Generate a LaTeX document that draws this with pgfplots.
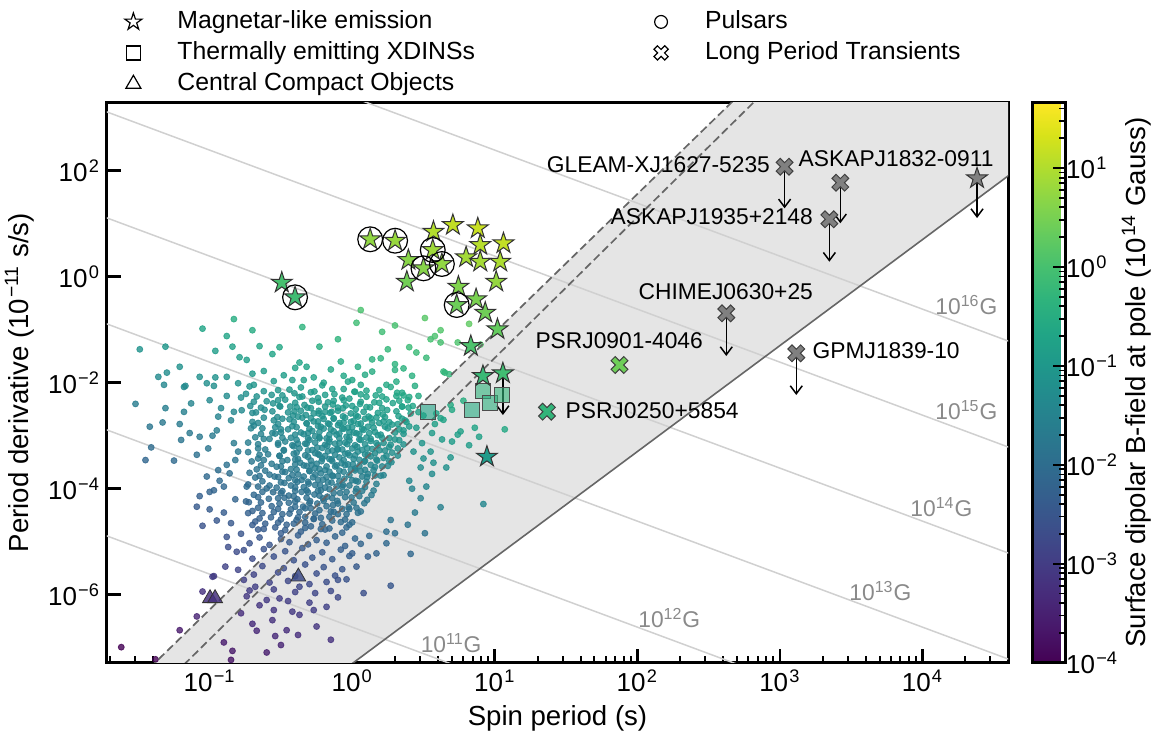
\documentclass[border=0pt]{standalone}
\usepackage{fontspec}
\setmainfont{Liberation Sans}
\usepackage{pgfplots}
\usepackage{pgfplotstable}
\pgfplotsset{compat=1.18}
\usepgfplotslibrary{colormaps}
\usetikzlibrary{arrows.meta}

\definecolor{bline}{HTML}{D0D0D0}
\definecolor{dline}{HTML}{666666}
\definecolor{region}{HTML}{E5E5E5}
\definecolor{lptgray}{HTML}{808080}
\definecolor{blabel}{HTML}{8A8A8A}
\newcommand{\sups}[1]{\kern0.6pt\textsuperscript{#1}}

% five-pointed star like matplotlib '*'
\pgfdeclareplotmark{mstar}{%
  \pgfpathmoveto{\pgfqpoint{0pt}{\pgfplotmarksize}}%
  \pgfpathlineto{\pgfqpoint{-0.2245\pgfplotmarksize}{0.309\pgfplotmarksize}}%
  \pgfpathlineto{\pgfqpoint{-0.9511\pgfplotmarksize}{0.309\pgfplotmarksize}}%
  \pgfpathlineto{\pgfqpoint{-0.3633\pgfplotmarksize}{-0.118\pgfplotmarksize}}%
  \pgfpathlineto{\pgfqpoint{-0.5878\pgfplotmarksize}{-0.809\pgfplotmarksize}}%
  \pgfpathlineto{\pgfqpoint{0pt}{-0.382\pgfplotmarksize}}%
  \pgfpathlineto{\pgfqpoint{0.5878\pgfplotmarksize}{-0.809\pgfplotmarksize}}%
  \pgfpathlineto{\pgfqpoint{0.3633\pgfplotmarksize}{-0.118\pgfplotmarksize}}%
  \pgfpathlineto{\pgfqpoint{0.9511\pgfplotmarksize}{0.309\pgfplotmarksize}}%
  \pgfpathlineto{\pgfqpoint{0.2245\pgfplotmarksize}{0.309\pgfplotmarksize}}%
  \pgfpathclose
  \pgfusepathqfillstroke
}
% filled X like matplotlib 'X'
\pgfdeclareplotmark{fatx}{%
  \pgftransformrotate{45}%
  \pgfpathmoveto{\pgfqpoint{0.32\pgfplotmarksize}{\pgfplotmarksize}}%
  \pgfpathlineto{\pgfqpoint{0.32\pgfplotmarksize}{0.32\pgfplotmarksize}}%
  \pgfpathlineto{\pgfqpoint{\pgfplotmarksize}{0.32\pgfplotmarksize}}%
  \pgfpathlineto{\pgfqpoint{\pgfplotmarksize}{-0.32\pgfplotmarksize}}%
  \pgfpathlineto{\pgfqpoint{0.32\pgfplotmarksize}{-0.32\pgfplotmarksize}}%
  \pgfpathlineto{\pgfqpoint{0.32\pgfplotmarksize}{-\pgfplotmarksize}}%
  \pgfpathlineto{\pgfqpoint{-0.32\pgfplotmarksize}{-\pgfplotmarksize}}%
  \pgfpathlineto{\pgfqpoint{-0.32\pgfplotmarksize}{-0.32\pgfplotmarksize}}%
  \pgfpathlineto{\pgfqpoint{-\pgfplotmarksize}{-0.32\pgfplotmarksize}}%
  \pgfpathlineto{\pgfqpoint{-\pgfplotmarksize}{0.32\pgfplotmarksize}}%
  \pgfpathlineto{\pgfqpoint{-0.32\pgfplotmarksize}{0.32\pgfplotmarksize}}%
  \pgfpathlineto{\pgfqpoint{-0.32\pgfplotmarksize}{\pgfplotmarksize}}%
  \pgfpathclose
  \pgfusepathqfillstroke
}

% all tables: a = log10 P [s], b = log10 Pdot [1e-11 s/s]
\pgfplotstableread[row sep=\\]{
a b\\
-1.49 -1.37\\ -1.31 -1.32\\ -1.36 -1.89\\ -1.30 -1.81\\ -1.21 -1.70\\ -1.32 -2.04\\ -1.17 -2.06\\ -1.07 -1.89\\
-1.02 -2.01\\ -0.96 -1.40\\ -0.96 -1.90\\ -0.88 -1.12\\ -0.88 -1.89\\ -0.84 -1.32\\ -0.83 -0.80\\ -0.80 -2.01\\
-0.79 -1.52\\ -0.74 -1.57\\ -0.70 -1.01\\ -0.69 -2.04\\ -0.65 -1.31\\ -0.56 -1.46\\ -0.51 -1.33\\ -0.42 -1.95\\
-0.37 -1.62\\ -0.34 -1.95\\ -0.32 -1.70\\ -0.23 -1.32\\ -0.10 -1.18\\ -0.06 -1.87\\ -0.03 -1.98\\ 0.04 -1.70\\
0.06 -2.04\\ 0.06 -0.63\\ 0.03 -0.87\\ 0.14 -1.56\\ 0.14 -1.79\\ 0.20 -1.54\\ 0.21 -1.04\\ 0.24 -2.04\\
0.25 -1.37\\ 0.31 -1.98\\ 0.36 -1.73\\ 0.42 -1.87\\ 0.45 -1.43\\ 0.52 -1.53\\ 0.51 -0.78\\ 0.58 -1.12\\
0.62 -1.24\\ 0.65 -1.81\\ 0.68 -1.84\\ 0.82 -0.89\\ 0.74 -1.24\\ 0.62 -1.01\\ 0.30 -1.76\\ 0.64 -1.79\\
-0.62 -1.78\\ -0.48 -1.86\\ -0.27 -1.90\\ -0.15 -1.75\\ -0.08 -1.60\\ 0.00 -1.95\\ 0.09 -1.85\\ 0.30 -1.65\\
-0.40 -1.72\\ -0.20 -2.00\\ -0.55 -1.97\\ -0.70 -1.83\\ -0.35 -0.95\\ 0.30 -0.92\\ -1.05 -0.98\\ 0.40 -1.33\\
0.55 -1.18\\ 0.90 -1.28\\
1.07 -2.88\\ 0.92 -4.29\\ 0.62 -4.35\\ 0.51 -4.84\\ 0.41 -5.23\\ 0.30 -4.84\\ 0.24 -4.81\\ 0.27 -4.59\\
0.39 -4.68\\ 0.48 -4.18\\ 0.52 -3.96\\ 0.56 -3.72\\ 0.69 -3.41\\ 0.66 -3.60\\ 0.57 -3.51\\ 0.50 -3.43\\
0.43 -3.30\\ 0.49 -3.14\\ 0.55 -3.30\\ 0.63 -3.07\\ 0.70 -3.11\\ 0.76 -2.92\\ 0.82 -3.18\\ 0.56 -2.95\\
0.64 -2.70\\ 0.69 -2.42\\ 0.78 -2.34\\ 0.59 -2.58\\ 0.38 -2.74\\ 0.41 -2.58\\ 0.35 -2.45\\ 0.31 -2.25\\
0.39 -2.33\\ 0.89 -3.02\\ 0.70 -2.51\\ 0.62 -2.67\\ 0.58 -2.78\\ 0.74 -2.98\\ 0.86 -2.85\\ 0.45 -2.85\\
0.48 -3.60\\ 0.42 -4.00\\ 0.50 -2.62\\ 0.40 -3.85\\ 0.44 -4.45\\
-1.52 -2.40\\ -1.42 -2.83\\ -1.45 -3.46\\ -1.41 -3.22\\ -1.33 -2.75\\ -1.31 -2.48\\ -1.25 -3.47\\ -1.21 -2.78\\
-1.20 -3.08\\ -1.18 -2.08\\ -1.09 -3.36\\ -1.07 -3.02\\ -1.01 -3.24\\ -1.14 -2.95\\ -1.18 -2.55\\ -1.13 -2.39\\
-1.00 -2.33\\ -0.97 -2.06\\ -0.94 -2.64\\ -0.88 -2.25\\ -1.02 -3.77\\ -0.94 -3.65\\ -1.00 -4.06\\ -0.90 -3.96\\
-0.86 -3.71\\ -0.82 -3.46\\ -0.83 -3.14\\ -1.09 -4.34\\ -1.00 -4.39\\ -1.07 -4.14\\ -0.97 -4.03\\ -0.88 -4.91\\
-0.87 -5.10\\ -0.81 -5.19\\ -0.76 -5.16\\ -0.98 -5.66\\ -0.89 -5.47\\ -0.80 -5.53\\ -0.92 -2.48\\ -0.85 -2.71\\
-0.95 -2.90\\ -0.80 -3.30\\ -0.88 -3.55\\ -0.93 -3.85\\ -0.82 -4.20\\ -0.90 -4.45\\ -0.85 -4.65\\ -0.78 -4.85\\
-0.95 -4.60\\ -1.05 -4.70\\ -0.98 -3.00\\ -0.83 -2.55\\
-1.21 -6.67\\ -1.09 -6.41\\ -1.62 -6.99\\ -0.67 -6.68\\ -0.56 -6.48\\ -0.46 -6.67\\ -0.38 -6.76\\ -0.37 -6.38\\
-0.85 -7.23\\ -0.60 -6.10\\ -0.51 -6.07\\ -0.72 -5.92\\ -0.76 -5.72\\ -0.68 -5.85\\ -0.55 -6.29\\ -0.45 -6.12\\
-0.37 -5.85\\ -0.27 -6.29\\ -0.18 -6.23\\ -0.26 -5.97\\ -0.10 -5.72\\ -0.04 -5.71\\ 0.08 -5.97\\ 0.27 -5.83\\
0.03 -5.47\\ 0.11 -5.28\\ 0.17 -5.22\\ 0.24 -5.03\\ -0.97 -5.65\\ -1.05 -5.94\\ -1.38 -7.22\\ -0.84 -7.06\\
-0.60 -7.09\\ -0.54 -6.78\\ -0.74 -6.03\\
-0.65 -4.92\\ -0.50 -4.95\\ -0.38 -4.88\\ -0.25 -4.97\\ -0.12 -4.90\\ 0.02 -4.94\\ 0.12 -4.89\\
-0.72 -5.03\\ -0.58 -5.06\\ -0.44 -5.01\\ -0.31 -5.05\\ -0.18 -5.02\\ -0.05 -5.08\\ 0.06 -5.04\\
-0.62 -5.14\\ -0.47 -5.18\\ -0.35 -5.12\\ -0.21 -5.20\\ -0.08 -5.15\\ 0.00 -5.22\\
-0.70 -5.32\\ -0.55 -5.28\\ -0.41 -5.35\\ -0.28 -5.30\\ -0.14 -5.33\\ -0.02 -5.27\\
-0.63 -5.46\\ -0.48 -5.50\\ -0.33 -5.43\\ -0.20 -5.48\\ -0.07 -5.52\\
-0.69 -5.62\\ -0.52 -5.58\\ -0.40 -5.65\\ -0.25 -5.60\\ -0.12 -5.64\\
-0.58 -5.77\\ -0.45 -5.74\\ -0.30 -5.80\\ -0.18 -5.76\\ -0.55 -5.90\\ -0.40 -5.95\\ -0.15 -5.93\\
-0.65 -6.20\\ -0.42 -6.32\\ -0.30 -6.15\\ -0.78 -6.35\\ -0.10 -6.05\\ -0.70 -6.55\\ -0.25 -6.60\\ -0.90 -6.90\\
-0.50 -6.95\\ -0.15 -6.85\\
-0.72 -2.07\\ -0.52 -2.14\\ -0.36 -2.09\\ -0.21 -2.05\\ -0.06 -2.12\\ 0.10 -2.15\\ 0.27 -2.08\\ 0.44 -2.06\\
-0.745 -2.21\\ -0.565 -2.23\\ -0.405 -2.20\\ -0.265 -2.165\\ -0.125 -2.215\\ 0.015 -2.17\\ 0.165 -2.24\\ 0.315 -2.19\\ 0.465 -2.25\\
-0.78 -2.28\\ -0.60 -2.35\\ -0.47 -2.32\\ -0.35 -2.26\\ -0.24 -2.29\\ -0.13 -2.34\\ -0.02 -2.30\\ 0.10 -2.265\\ 0.24 -2.315\\ 0.40 -2.27\\
-0.715 -2.44\\ -0.555 -2.39\\ -0.435 -2.45\\ -0.335 -2.42\\ -0.235 -2.36\\ -0.135 -2.41\\ -0.045 -2.43\\ 0.055 -2.40\\ 0.155 -2.37\\ 0.285 -2.385\\ 0.425 -2.44\\
-0.775 -2.52\\ -0.615 -2.51\\ -0.505 -2.45\\ -0.405 -2.54\\ -0.315 -2.47\\ -0.235 -2.53\\ -0.145 -2.55\\ -0.065 -2.48\\ 0.025 -2.50\\ 0.125 -2.465\\ 0.245 -2.515\\ 0.395 -2.47\\
-0.675 -2.56\\ -0.525 -2.65\\ -0.415 -2.62\\ -0.325 -2.61\\ -0.235 -2.58\\ -0.155 -2.57\\ -0.065 -2.635\\ 0.025 -2.615\\ 0.115 -2.64\\ 0.215 -2.60\\ 0.325 -2.63\\ 0.465 -2.555\\
-0.70 -2.74\\ -0.55 -2.71\\ -0.44 -2.69\\ -0.35 -2.66\\ -0.27 -2.73\\ -0.20 -2.685\\ -0.13 -2.67\\ -0.06 -2.75\\ 0.01 -2.72\\ 0.09 -2.68\\ 0.17 -2.655\\ 0.26 -2.745\\ 0.37 -2.71\\
-0.69 -2.81\\ -0.54 -2.84\\ -0.42 -2.82\\ -0.32 -2.765\\ -0.24 -2.815\\ -0.17 -2.77\\ -0.10 -2.80\\ -0.03 -2.85\\ 0.04 -2.78\\ 0.11 -2.83\\ 0.19 -2.76\\ 0.28 -2.79\\ 0.40 -2.825\\
-0.71 -2.86\\ -0.56 -2.95\\ -0.45 -2.88\\ -0.36 -2.94\\ -0.28 -2.91\\ -0.20 -2.865\\ -0.13 -2.915\\ -0.06 -2.87\\ 0.01 -2.94\\ 0.08 -2.89\\ 0.16 -2.93\\ 0.25 -2.86\\ 0.36 -2.90\\
-0.68 -3.03\\ -0.54 -2.96\\ -0.43 -3.04\\ -0.34 -2.97\\ -0.26 -3.01\\ -0.18 -3.05\\ -0.11 -2.98\\ -0.04 -3.02\\ 0.03 -2.955\\ 0.10 -3.035\\ 0.18 -2.99\\ 0.26 -3.045\\ 0.36 -2.965\\
-0.73 -3.13\\ -0.58 -3.06\\ -0.47 -3.11\\ -0.38 -3.15\\ -0.30 -3.08\\ -0.23 -3.05\\ -0.16 -3.12\\ -0.09 -3.14\\ -0.02 -3.09\\ 0.05 -3.07\\ 0.13 -3.10\\ 0.22 -3.135\\ 0.33 -3.085\\
-0.66 -3.24\\ -0.52 -3.17\\ -0.41 -3.20\\ -0.32 -3.155\\ -0.245 -3.225\\ -0.175 -3.19\\ -0.105 -3.25\\ -0.035 -3.16\\ 0.035 -3.21\\ 0.105 -3.235\\ 0.18 -3.18\\ 0.26 -3.215\\ 0.36 -3.165\\
-0.73 -3.31\\ -0.59 -3.35\\ -0.48 -3.27\\ -0.39 -3.32\\ -0.31 -3.28\\ -0.24 -3.345\\ -0.17 -3.295\\ -0.10 -3.26\\ -0.03 -3.33\\ 0.04 -3.30\\ 0.11 -3.355\\ 0.19 -3.275\\ 0.28 -3.32\\
-0.66 -3.43\\ -0.51 -3.38\\ -0.40 -3.45\\ -0.31 -3.40\\ -0.23 -3.365\\ -0.16 -3.44\\ -0.09 -3.41\\ -0.02 -3.37\\ 0.05 -3.455\\ 0.13 -3.39\\ 0.22 -3.42\\ 0.32 -3.375\\
-0.705 -3.485\\ -0.565 -3.53\\ -0.455 -3.46\\ -0.365 -3.51\\ -0.285 -3.55\\ -0.215 -3.48\\ -0.145 -3.45\\ -0.075 -3.52\\ 0.005 -3.54\\ 0.085 -3.49\\ 0.175 -3.47\\ 0.275 -3.50\\
-0.67 -3.635\\ -0.53 -3.585\\ -0.43 -3.63\\ -0.34 -3.56\\ -0.26 -3.61\\ -0.19 -3.65\\ -0.12 -3.58\\ -0.05 -3.555\\ 0.02 -3.62\\ 0.09 -3.645\\ 0.16 -3.59\\ 0.25 -3.57\\
-0.72 -3.70\\ -0.58 -3.735\\ -0.47 -3.685\\ -0.38 -3.73\\ -0.30 -3.66\\ -0.22 -3.71\\ -0.14 -3.75\\ -0.06 -3.68\\ 0.02 -3.655\\ 0.11 -3.72\\ 0.22 -3.745\\
-0.68 -3.79\\ -0.545 -3.77\\ -0.445 -3.80\\ -0.355 -3.835\\ -0.275 -3.785\\ -0.205 -3.83\\ -0.135 -3.765\\ -0.055 -3.81\\ 0.025 -3.85\\ 0.105 -3.78\\ 0.20 -3.755\\
-0.73 -3.92\\ -0.58 -3.94\\ -0.475 -3.89\\ -0.385 -3.87\\ -0.305 -3.905\\ -0.225 -3.935\\ -0.145 -3.885\\ -0.065 -3.93\\ 0.04 -3.865\\ 0.17 -3.91\\
-0.74 -3.96\\ -0.60 -3.995\\ -0.49 -4.045\\ -0.40 -3.975\\ -0.32 -4.03\\ -0.24 -4.04\\ -0.16 -4.01\\ -0.07 -3.965\\ 0.03 -4.00\\ 0.15 -4.035\\
-0.69 -4.115\\ -0.555 -4.065\\ -0.445 -4.13\\ -0.355 -4.06\\ -0.265 -4.11\\ -0.175 -4.15\\ -0.085 -4.08\\ 0.025 -4.055\\ 0.135 -4.12\\
-0.745 -4.24\\ -0.585 -4.19\\ -0.475 -4.17\\ -0.385 -4.20\\ -0.295 -4.235\\ -0.205 -4.185\\ -0.105 -4.23\\ -0.005 -4.165\\ 0.105 -4.21\\
-0.725 -4.255\\ -0.565 -4.33\\ -0.445 -4.265\\ -0.345 -4.34\\ -0.245 -4.28\\ -0.135 -4.31\\ -0.025 -4.35\\ 0.085 -4.275\\
-0.70 -4.42\\ -0.55 -4.44\\ -0.43 -4.39\\ -0.33 -4.37\\ -0.23 -4.405\\ -0.13 -4.435\\ -0.02 -4.385\\ 0.06 -4.43\\
-0.73 -4.46\\ -0.57 -4.54\\ -0.44 -4.47\\ -0.33 -4.53\\ -0.22 -4.55\\ -0.10 -4.48\\ 0.04 -4.455\\
-0.68 -4.62\\ -0.52 -4.64\\ -0.39 -4.59\\ -0.27 -4.57\\ -0.14 -4.60\\ 0.00 -4.635\\
-0.70 -4.685\\ -0.54 -4.73\\ -0.41 -4.66\\ -0.29 -4.71\\ -0.16 -4.75\\ -0.02 -4.68\\
-0.66 -4.77\\ -0.50 -4.84\\ -0.36 -4.81\\ -0.22 -4.76\\ -0.07 -4.83\\
-0.62 -2.16\\ -0.44 -2.13\\ -0.29 -2.18\\ -0.14 -2.12\\ 0.02 -2.17\\ 0.19 -2.14\\ 0.35 -2.19\\
-0.67 -2.26\\ -0.49 -2.24\\ -0.37 -2.27\\ -0.19 -2.23\\ -0.07 -2.28\\ 0.06 -2.22\\ 0.21 -2.26\\ 0.36 -2.24\\
-0.69 -2.36\\ -0.52 -2.33\\ -0.40 -2.38\\ -0.28 -2.34\\ -0.17 -2.37\\ -0.06 -2.33\\ 0.06 -2.36\\ 0.19 -2.38\\ 0.33 -2.34\\
-0.64 -2.47\\ -0.51 -2.44\\ -0.39 -2.46\\ -0.29 -2.48\\ -0.19 -2.45\\ -0.10 -2.47\\ 0.00 -2.44\\ 0.10 -2.46\\ 0.21 -2.48\\ 0.35 -2.45\\
-0.70 -2.57\\ -0.56 -2.54\\ -0.45 -2.56\\ -0.36 -2.53\\ -0.27 -2.58\\ -0.19 -2.55\\ -0.10 -2.53\\ -0.01 -2.58\\ 0.08 -2.55\\ 0.18 -2.57\\ 0.31 -2.54\\
-0.62 -2.66\\ -0.49 -2.68\\ -0.38 -2.64\\ -0.29 -2.67\\ -0.21 -2.63\\ -0.13 -2.68\\ -0.05 -2.66\\ 0.04 -2.64\\ 0.13 -2.67\\ 0.23 -2.65\\ 0.35 -2.68\\
-0.66 -2.76\\ -0.52 -2.78\\ -0.41 -2.74\\ -0.32 -2.77\\ -0.24 -2.73\\ -0.16 -2.78\\ -0.09 -2.76\\ -0.01 -2.74\\ 0.06 -2.77\\ 0.14 -2.75\\ 0.22 -2.73\\ 0.32 -2.78\\
-0.63 -2.86\\ -0.50 -2.88\\ -0.39 -2.84\\ -0.30 -2.87\\ -0.22 -2.83\\ -0.15 -2.88\\ -0.07 -2.86\\ 0.00 -2.84\\ 0.07 -2.87\\ 0.15 -2.85\\ 0.23 -2.83\\ 0.33 -2.88\\
-0.64 -2.97\\ -0.50 -2.94\\ -0.40 -2.98\\ -0.31 -2.95\\ -0.23 -2.93\\ -0.16 -2.98\\ -0.09 -2.96\\ -0.02 -2.93\\ 0.05 -2.97\\ 0.12 -2.95\\ 0.20 -2.98\\ 0.30 -2.94\\
-0.62 -3.06\\ -0.49 -3.04\\ -0.39 -3.08\\ -0.31 -3.05\\ -0.23 -3.03\\ -0.16 -3.07\\ -0.09 -3.05\\ -0.02 -3.03\\ 0.06 -3.08\\ 0.13 -3.06\\ 0.21 -3.04\\ 0.30 -3.07\\
-0.66 -3.16\\ -0.52 -3.14\\ -0.42 -3.18\\ -0.33 -3.15\\ -0.26 -3.13\\ -0.19 -3.17\\ -0.12 -3.15\\ -0.05 -3.13\\ 0.02 -3.18\\ 0.09 -3.16\\ 0.17 -3.14\\ 0.27 -3.17\\
-0.61 -3.26\\ -0.48 -3.28\\ -0.37 -3.24\\ -0.28 -3.27\\ -0.21 -3.23\\ -0.14 -3.28\\ -0.07 -3.26\\ 0.00 -3.24\\ 0.07 -3.27\\ 0.14 -3.25\\ 0.23 -3.28\\ 0.32 -3.24\\
-0.65 -3.36\\ -0.51 -3.38\\ -0.41 -3.34\\ -0.33 -3.37\\ -0.26 -3.33\\ -0.19 -3.38\\ -0.12 -3.36\\ -0.05 -3.34\\ 0.02 -3.37\\ 0.09 -3.35\\ 0.16 -3.33\\ 0.24 -3.38\\
-0.62 -3.46\\ -0.49 -3.48\\ -0.38 -3.44\\ -0.29 -3.47\\ -0.21 -3.43\\ -0.14 -3.48\\ -0.06 -3.46\\ 0.01 -3.44\\ 0.09 -3.47\\ 0.17 -3.45\\ 0.26 -3.48\\
-0.64 -3.56\\ -0.50 -3.58\\ -0.40 -3.54\\ -0.32 -3.57\\ -0.25 -3.53\\ -0.18 -3.58\\ -0.11 -3.56\\ -0.03 -3.54\\ 0.05 -3.57\\ 0.13 -3.55\\ 0.21 -3.58\\
-0.61 -3.66\\ -0.49 -3.68\\ -0.39 -3.64\\ -0.30 -3.67\\ -0.23 -3.63\\ -0.16 -3.68\\ -0.09 -3.66\\ -0.01 -3.64\\ 0.06 -3.67\\ 0.15 -3.65\\
-0.65 -3.76\\ -0.52 -3.78\\ -0.42 -3.74\\ -0.34 -3.77\\ -0.26 -3.73\\ -0.18 -3.78\\ -0.10 -3.76\\ -0.02 -3.74\\ 0.07 -3.77\\ 0.16 -3.75\\
-0.63 -3.86\\ -0.50 -3.88\\ -0.40 -3.84\\ -0.31 -3.87\\ -0.24 -3.83\\ -0.17 -3.88\\ -0.09 -3.86\\ 0.00 -3.84\\ 0.10 -3.87\\
-0.66 -3.96\\ -0.53 -3.98\\ -0.43 -3.94\\ -0.34 -3.97\\ -0.26 -3.93\\ -0.19 -3.98\\ -0.11 -3.96\\ -0.02 -3.94\\ 0.09 -3.97\\
-0.63 -4.06\\ -0.50 -4.08\\ -0.40 -4.04\\ -0.31 -4.07\\ -0.22 -4.03\\ -0.13 -4.08\\ -0.04 -4.06\\ 0.07 -4.04\\
-0.66 -4.16\\ -0.52 -4.18\\ -0.41 -4.14\\ -0.32 -4.17\\ -0.23 -4.13\\ -0.14 -4.18\\ -0.05 -4.16\\ 0.05 -4.14\\
-0.64 -4.26\\ -0.51 -4.28\\ -0.40 -4.24\\ -0.30 -4.27\\ -0.20 -4.23\\ -0.10 -4.28\\ 0.01 -4.26\\
-0.66 -4.36\\ -0.52 -4.38\\ -0.40 -4.34\\ -0.29 -4.37\\ -0.18 -4.33\\ -0.07 -4.38\\ 0.03 -4.36\\
-0.63 -4.46\\ -0.49 -4.48\\ -0.37 -4.44\\ -0.26 -4.47\\ -0.15 -4.43\\ -0.04 -4.48\\
-0.65 -4.56\\ -0.50 -4.58\\ -0.38 -4.54\\ -0.27 -4.57\\ -0.16 -4.53\\ -0.05 -4.58\\
-0.61 -4.66\\ -0.46 -4.68\\ -0.33 -4.64\\ -0.21 -4.67\\ -0.08 -4.63\\
-0.62 -4.76\\ -0.47 -4.78\\ -0.33 -4.74\\ -0.19 -4.77\\ -0.04 -4.73\\
}\tabpsr

\pgfplotstableread[row sep=\\]{
a b\\
-0.494 -0.113\\ -0.401 -0.389\\ 0.126 0.706\\ 0.301 0.679\\ 0.570 0.849\\ 0.706 0.975\\ 0.881 0.913\\
1.061 0.630\\ 0.898 0.598\\ 0.565 0.504\\ 0.394 0.315\\ 0.500 0.158\\ 0.629 0.240\\ 0.799 0.366\\
0.898 0.283\\ 1.038 0.283\\ 0.383 -0.094\\ 1.010 -0.094\\ 0.745 -0.189\\ 0.869 -0.426\\ 0.733 -0.534\\
0.933 -0.679\\ 1.019 -0.992\\ 0.832 -1.308\\ 0.917 -1.874\\ 1.057 -1.823\\ 0.945 -3.396\\
}\tabmagn

\pgfplotstableread[row sep=\\]{
a b\\
-0.401 -0.389\\ 0.126 0.706\\ 0.301 0.679\\ 0.565 0.504\\ 0.500 0.158\\ 0.629 0.240\\ 0.733 -0.534\\
}\tabcirc

\pgfplotstableread[row sep=\\]{
a b\\
0.528 -2.547\\ 0.839 -2.515\\ 0.916 -2.157\\ 0.968 -2.377\\ 1.050 -2.232\\
}\tabxdins

\pgfplotstableread[row sep=\\]{
a b\\
-0.997 -6.068\\ -0.962 -6.068\\ -0.378 -5.660\\
}\tabcco

\pgfplotstableread[row sep=\\]{
a b\\
3.033 2.075\\ 3.424 1.774\\ 3.347 1.083\\ 2.624 -0.691\\ 3.115 -1.445\\
}\tablptg

\pgfplotstableread[row sep=\\]{
a b\\
1.875 -1.666\\ 1.366 -2.547\\
}\tablptc

\begin{document}
\begin{tikzpicture}
\begin{axis}[
  scale only axis, width=450.5pt, height=280pt,
  xmode=log, ymode=log,
  xmin=0.019055, xmax=39810, ymin=5.21e-8, ymax=1919,
  clip mode=individual,
  axis line style={line width=1.5pt},
  tick align=inside, tick pos=left,
  major tick length=7pt, minor tick length=3.5pt,
  major tick style={line width=1.3pt, black},
  minor tick style={line width=1pt, black},
  minor y tick style={draw=none},
  xtick={0.1,1,10,100,1000,10000},
  xticklabels={10\sups{−1},10\sups{0},10\sups{1},10\sups{2},10\sups{3},10\sups{4}},
  minor xtick={0.02,0.03,0.04,0.05,0.06,0.07,0.08,0.09,0.2,0.3,0.4,0.5,0.6,0.7,0.8,0.9,2,3,4,5,6,7,8,9,20,30,40,50,60,70,80,90,200,300,400,500,600,700,800,900,2000,3000,4000,5000,6000,7000,8000,9000,20000,30000},
  ytick={1e-6,1e-4,1e-2,1,100},
  yticklabels={10\sups{−6},10\sups{−4},10\sups{−2},10\sups{0},10\sups{2}},
  ticklabel style={font=\fontsize{13}{15.5}\selectfont},
  label style={font=\fontsize{13.8}{16}\selectfont},
  xlabel={Spin period (s)},
  ylabel={Period derivative (10\sups{−11} s/s)},
  colormap/viridis, point meta min=-4, point meta max=1.66,
  colorbar right,
  colorbar style={
    scale only axis, width=16.5pt, height=280pt,
    at={(parent axis.north east)}, anchor=north west, xshift=3.5pt,
    axis line style={line width=1.5pt},
    tick align=inside, ytick pos=right, yticklabel pos=right,
    major tick length=6pt, minor tick length=3pt,
    major tick style={line width=1.2pt, black},
    minor tick style={line width=0.9pt, black},
    ytick={-4,-3,-2,-1,0,1},
    yticklabels={10\sups{−4},10\sups{−3},10\sups{−2},10\sups{−1},10\sups{0},10\sups{1}},
    minor ytick={-3.699,-3.523,-3.398,-3.301,-3.222,-3.155,-3.097,-3.046,-2.699,-2.523,-2.398,-2.301,-2.222,-2.155,-2.097,-2.046,-1.699,-1.523,-1.398,-1.301,-1.222,-1.155,-1.097,-1.046,-0.699,-0.523,-0.398,-0.301,-0.222,-0.155,-0.097,-0.046,0.301,0.477,0.602,0.699,0.778,0.845,0.903,0.954,1.301,1.477,1.602},
    ticklabel style={font=\fontsize{13}{15.5}\selectfont},
    yticklabel style={xshift=-3pt},
    ylabel={Surface dipolar B-field at pole (10\sups{14} Gauss)},
    ylabel style={font=\fontsize{13.8}{16}\selectfont},
    ylabel shift=-5pt,
  },
  legend image code/.code={\draw[#1] plot coordinates {(0pt,0pt)}; \path[draw=none, fill=none] (-9pt,-1pt) rectangle (19pt,1pt);},
  legend columns=2,
  legend cell align=left,
  legend style={at={(axis description cs:0,1)}, anchor=north west,
    xshift=4pt, yshift=46.85pt, draw=none, fill=none, inner sep=0pt,
    font=\fontsize{12.4}{14.5}\selectfont,
    nodes={inner xsep=3pt, inner ysep=0pt, text height=9.5pt, text depth=3pt},
    row sep=3pt,
    /tikz/every even column/.append style={column sep=81pt}},
]
\addlegendimage{only marks, mark=mstar, mark size=4.5pt, mark options={draw=black, fill=white, line width=0.6pt}}
\addlegendentry{Magnetar-like emission}
\addlegendimage{only marks, mark=o, mark size=3.2pt, mark options={draw=black, line width=0.6pt}}
\addlegendentry{Pulsars}
\addlegendimage{only marks, mark=square, mark size=3.5pt, mark options={draw=black, line width=0.6pt}}
\addlegendentry{Thermally emitting XDINSs}
\addlegendimage{only marks, mark=fatx, mark size=3.8pt, mark options={draw=black, fill=white, line width=0.6pt}}
\addlegendentry{Long Period Transients}
\addlegendimage{only marks, mark=triangle, mark size=4.3pt, mark options={draw=black, line width=0.6pt}}
\addlegendentry{Central Compact Objects}

\coordinate (bl) at (rel axis cs:0,0);
\coordinate (tr) at (rel axis cs:1,1);

% region between the death lines
\addplot[draw=none, fill=region] coordinates {
  (0.019055,6.855e-9) (630.96,4477) (50119,4477) (50119,125.9) (0.5012,1.259e-8)
} -- cycle;

% constant dipole field lines 1e11 ... 1e16 G
\addplot[bline, line width=0.75pt] coordinates {(0.01585,1.542e5) (50119,0.04875)};
\addplot[bline, line width=0.75pt] coordinates {(0.01585,1542) (50119,4.875e-4)};
\addplot[bline, line width=0.75pt] coordinates {(0.01585,15.42) (50119,4.875e-6)};
\addplot[bline, line width=0.75pt] coordinates {(0.01585,0.1542) (50119,4.875e-8)};
\addplot[bline, line width=0.75pt] coordinates {(0.01585,1.542e-3) (50119,4.875e-10)};
\addplot[bline, line width=0.75pt] coordinates {(0.01585,1.542e-5) (50119,4.875e-12)};

% pulsars
\addplot[scatter, only marks, mark=*, mark size=1.5pt, opacity=0.8,
  scatter/use mapped color={draw=mapped color, fill=mapped color},
  point meta={0.3062+0.5*(\thisrow{a}+\thisrow{b})}]
  table[x expr={10^\thisrow{a}}, y expr={10^\thisrow{b}}] {\tabpsr};

% death lines
\addplot[dline, line width=0.85pt, dash pattern=on 4pt off 2pt] coordinates {(0.019055,6.855e-9) (630.96,4477)};
\addplot[dline, line width=0.85pt, dash pattern=on 4pt off 2pt] coordinates {(0.019055,1.762e-9) (794.3,3251)};
\addplot[dline, line width=0.8pt] coordinates {(0.5012,1.259e-8) (50119,125.9)};

% upper-limit arrows
\draw[-{Straight Barb[length=4pt,width=6pt]}, line width=0.75pt] (axis cs:1079,118.9) -- (axis cs:1079,19.5);
\draw[-{Straight Barb[length=4pt,width=6pt]}, line width=0.75pt] (axis cs:2655,59.4) -- (axis cs:2655,10.2);
\draw[-{Straight Barb[length=4pt,width=6pt]}, line width=0.75pt] (axis cs:2223,12.1) -- (axis cs:2223,1.92);
\draw[-{Straight Barb[length=4pt,width=6pt]}, line width=0.75pt] (axis cs:420.7,0.2037) -- (axis cs:420.7,0.0319);
\draw[-{Straight Barb[length=4pt,width=6pt]}, line width=0.75pt] (axis cs:1303,0.0359) -- (axis cs:1303,0.00586);
\draw[-{Straight Barb[length=4pt,width=6pt]}, line width=0.75pt] (axis cs:11.40,0.01503) -- (axis cs:11.40,0.00246);
\draw[-{Straight Barb[length=4pt,width=6pt]}, line width=0.75pt] (axis cs:24150,71.9) -- (axis cs:24150,12.8);

% XDINSs
\addplot[scatter, only marks, mark=square*, mark size=3.75pt,
  scatter/use mapped color={draw=black!70, fill=mapped color, fill opacity=0.6},
  point meta={0.3062+0.5*(\thisrow{a}+\thisrow{b})}]
  table[x expr={10^\thisrow{a}}, y expr={10^\thisrow{b}}] {\tabxdins};

% magnetars
\addplot[scatter, only marks, mark=mstar, mark size=5.5pt,
  scatter/use mapped color={draw=black!80, fill=mapped color, line width=0.5pt},
  point meta={0.3062+0.5*(\thisrow{a}+\thisrow{b})}]
  table[x expr={10^\thisrow{a}}, y expr={10^\thisrow{b}}] {\tabmagn};
\addplot[only marks, mark=mstar, mark size=5.5pt, mark options={draw=black!80, fill=lptgray, line width=0.5pt}]
  coordinates {(24150,71.9)};

% radio pulsations
\addplot[only marks, mark=o, mark size=6.2pt, mark options={draw=black, line width=0.6pt}]
  table[x expr={10^\thisrow{a}}, y expr={10^\thisrow{b}}] {\tabcirc};

% CCOs
\addplot[scatter, only marks, mark=triangle*, mark size=4.3pt,
  scatter/use mapped color={draw=black!80, fill=mapped color, fill opacity=0.85},
  point meta={0.3062+0.5*(\thisrow{a}+\thisrow{b})}]
  table[x expr={10^\thisrow{a}}, y expr={10^\thisrow{b}}] {\tabcco};

% long period transients
\addplot[only marks, mark=fatx, mark size=4.5pt, mark options={draw=black!75, fill=lptgray, line width=0.5pt}]
  table[x expr={10^\thisrow{a}}, y expr={10^\thisrow{b}}] {\tablptg};
\addplot[scatter, only marks, mark=fatx, mark size=4.5pt,
  scatter/use mapped color={draw=black!75, fill=mapped color, line width=0.5pt},
  point meta={0.3062+0.5*(\thisrow{a}+\thisrow{b})}]
  table[x expr={10^\thisrow{a}}, y expr={10^\thisrow{b}}] {\tablptc};

% names
\begin{scope}[font=\fontsize{11.4}{13}\selectfont, inner sep=1pt]
\node[anchor=east] at (axis cs:885,128) {GLEAM-XJ1627-5235};
\node[anchor=west] at (axis cs:1303,166) {ASKAPJ1832-0911};
\node[anchor=east] at (axis cs:1770,13.4) {ASKAPJ1935+2148};
\node at (axis cs:417,0.514) {CHIMEJ0630+25};
\node[anchor=west] at (axis cs:1633,0.0396) {GPMJ1839-10};
\node at (axis cs:74.6,0.0612) {PSRJ0901-4046};
\node[anchor=west] at (axis cs:30.2,0.00292) {PSRJ0250+5854};
\end{scope}

% field labels
\begin{scope}[font=\fontsize{11.4}{13}\selectfont, text=blabel, inner sep=0pt]
\node at (axis cs:20320,0.292) {10\textsuperscript{16}G};
\node at (axis cs:20320,0.00305) {10\textsuperscript{15}G};
\node at (axis cs:13580,4.52e-5) {10\textsuperscript{14}G};
\node at (axis cs:5070,1.175e-6) {10\textsuperscript{13}G};
\node at (axis cs:167.5,3.63e-7) {10\textsuperscript{12}G};
\node at (axis cs:4.94,1.23e-7) {10\textsuperscript{11}G};
\end{scope}
\end{axis}
\pgfresetboundingbox
\path ([xshift=-53.5pt, yshift=-38.65pt]bl) rectangle ([xshift=75pt, yshift=51.35pt]tr);
\end{tikzpicture}
\end{document}
